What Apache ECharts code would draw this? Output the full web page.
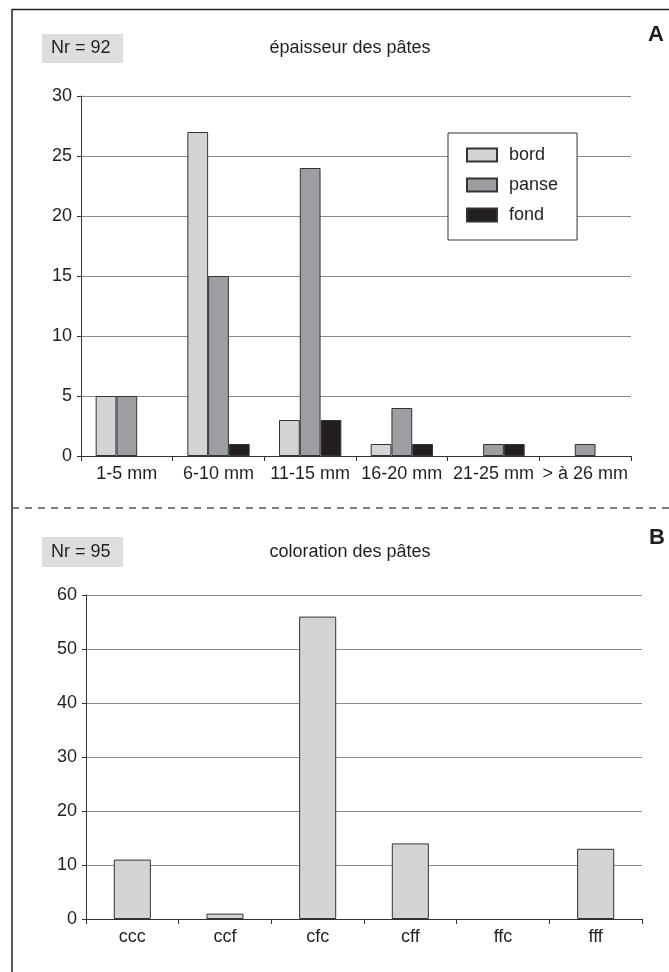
<!DOCTYPE html>
<html>
<head>
<meta charset="utf-8">
<script src="https://cdn.jsdelivr.net/npm/echarts@6/dist/echarts.min.js"></script>
<style>
html,body{margin:0;padding:0;background:#fff;}
#chart{width:669px;height:972px;}
</style>
</head>
<body>
<div id="chart"></div>
<script>
// ---- Data ----
const catsA = ['1-5 mm', '6-10 mm', '11-15 mm', '16-20 mm', '21-25 mm', '> à 26 mm'];
const bord  = [5, 27, 3, 1, 0, 0];
const panse = [5, 15, 24, 4, 1, 1];
const fond  = [0, 1, 3, 1, 1, 0];
const titleA = 'épaisseur des pâtes';
const nrA = 'Nr = 92';

const catsB = ['ccc', 'ccf', 'cfc', 'cff', 'ffc', 'fff'];
const coloration = [11, 1, 56, 14, 0, 13];
const titleB = 'coloration des pâtes';
const nrB = 'Nr = 95';

// ---- Styles ----
const FONT = '"Liberation Sans", Arial, sans-serif';
const TXT = '#231f20';
const GRID = '#8a8a8a';
const AXIS = '#333333';
const C_BORD = '#d3d4d6';
const C_PANSE = '#9d9ea2';
const C_FOND = '#231f20';

// zero counts draw no bar (as in the original figure)
const noZero = arr => arr.map(v => (v === 0 ? null : v));

const chart = echarts.init(document.getElementById('chart'), null, {renderer: 'canvas'});

function xAxisCfg(idx, cats) {
  return {
    type: 'category', gridIndex: idx, data: cats, boundaryGap: true,
    axisLine: {show: true, lineStyle: {color: AXIS, width: 1}},
    axisTick: {show: true, length: 5, inside: false, alignWithLabel: false, lineStyle: {color: AXIS}},
    axisLabel: {color: TXT, fontSize: 18, fontFamily: FONT, margin: 9, interval: 0},
    splitLine: {show: false}
  };
}
function yAxisCfg(idx, max, interval) {
  return {
    type: 'value', gridIndex: idx, min: 0, max: max, interval: interval,
    axisLine: {show: true, lineStyle: {color: AXIS, width: 1}},
    axisTick: {show: true, length: 4, inside: false, lineStyle: {color: AXIS}},
    axisLabel: {color: TXT, fontSize: 18, fontFamily: FONT, margin: 9},
    splitLine: {show: true, lineStyle: {color: GRID, width: 1}}
  };
}

const barBorder = {borderColor: '#333', borderWidth: 1};

const option = {
  animation: false,
  backgroundColor: '#ffffff',
  textStyle: {fontFamily: FONT, color: TXT},
  grid: [
    {left: 81, top: 96, width: 550, height: 360},
    {left: 86, top: 595, width: 556, height: 324}
  ],
  xAxis: [xAxisCfg(0, catsA), xAxisCfg(1, catsB)],
  yAxis: [yAxisCfg(0, 30, 5), yAxisCfg(1, 60, 10)],
  legend: {
    data: ['bord', 'panse', 'fond'],
    orient: 'vertical',
    left: 448, top: 133,
    itemWidth: 30, itemHeight: 13, itemGap: 12,
    padding: [13, 19, 16, 18],
    borderColor: '#333', borderWidth: 1, backgroundColor: '#fff',
    icon: 'rect',
    textStyle: {fontSize: 18, fontFamily: FONT, color: TXT, padding: [0, 0, 0, 7]}
  },
  series: [
    {name: 'bord', type: 'bar', xAxisIndex: 0, yAxisIndex: 0, data: noZero(bord),
     barGap: '0%', barCategoryGap: '32%', itemStyle: Object.assign({color: C_BORD}, barBorder)},
    {name: 'panse', type: 'bar', xAxisIndex: 0, yAxisIndex: 0, data: noZero(panse),
     barGap: '0%', barCategoryGap: '32%', itemStyle: Object.assign({color: C_PANSE}, barBorder)},
    {name: 'fond', type: 'bar', xAxisIndex: 0, yAxisIndex: 0, data: noZero(fond),
     barGap: '0%', barCategoryGap: '32%', itemStyle: Object.assign({color: C_FOND}, barBorder)},
    {name: 'coloration', type: 'bar', xAxisIndex: 1, yAxisIndex: 1, data: noZero(coloration),
     barWidth: '40%', itemStyle: Object.assign({color: C_BORD}, barBorder)}
  ],
  graphic: [
    // frame
    {type: 'line', shape: {x1: 12, y1: 9.5, x2: 669, y2: 9.5}, style: {stroke: '#222', lineWidth: 1.5}},
    {type: 'line', shape: {x1: 12, y1: 9, x2: 12, y2: 972}, style: {stroke: '#222', lineWidth: 1.5}},
    // dashed separator
    {type: 'line', shape: {x1: 12, y1: 508, x2: 669, y2: 508}, style: {stroke: '#555', lineWidth: 1.5, lineDash: [7, 6]}},
    // Nr boxes
    {type: 'rect', shape: {x: 42, y: 34, width: 81, height: 29}, style: {fill: '#dedede'}},
    {type: 'text', x: 51, y: 48.5, style: {text: nrA, fontSize: 18, fontFamily: FONT, fill: TXT, verticalAlign: 'middle', align: 'left'}},
    {type: 'rect', shape: {x: 42, y: 537, width: 81, height: 30}, style: {fill: '#dedede'}},
    {type: 'text', x: 51, y: 552, style: {text: nrB, fontSize: 18, fontFamily: FONT, fill: TXT, verticalAlign: 'middle', align: 'left'}},
    // titles
    {type: 'text', x: 350, y: 48.5, style: {text: titleA, fontSize: 18, fontFamily: FONT, fill: TXT, verticalAlign: 'middle', align: 'center'}},
    {type: 'text', x: 350, y: 552, style: {text: titleB, fontSize: 18, fontFamily: FONT, fill: TXT, verticalAlign: 'middle', align: 'center'}},
    // panel letters
    {type: 'text', x: 648, y: 35, style: {text: 'A', fontSize: 22, fontWeight: 'bold', fontFamily: FONT, fill: TXT, verticalAlign: 'middle', align: 'left'}},
    {type: 'text', x: 649, y: 538, style: {text: 'B', fontSize: 22, fontWeight: 'bold', fontFamily: FONT, fill: TXT, verticalAlign: 'middle', align: 'left'}}
  ]
};
chart.setOption(option);
</script>
</body>
</html>
